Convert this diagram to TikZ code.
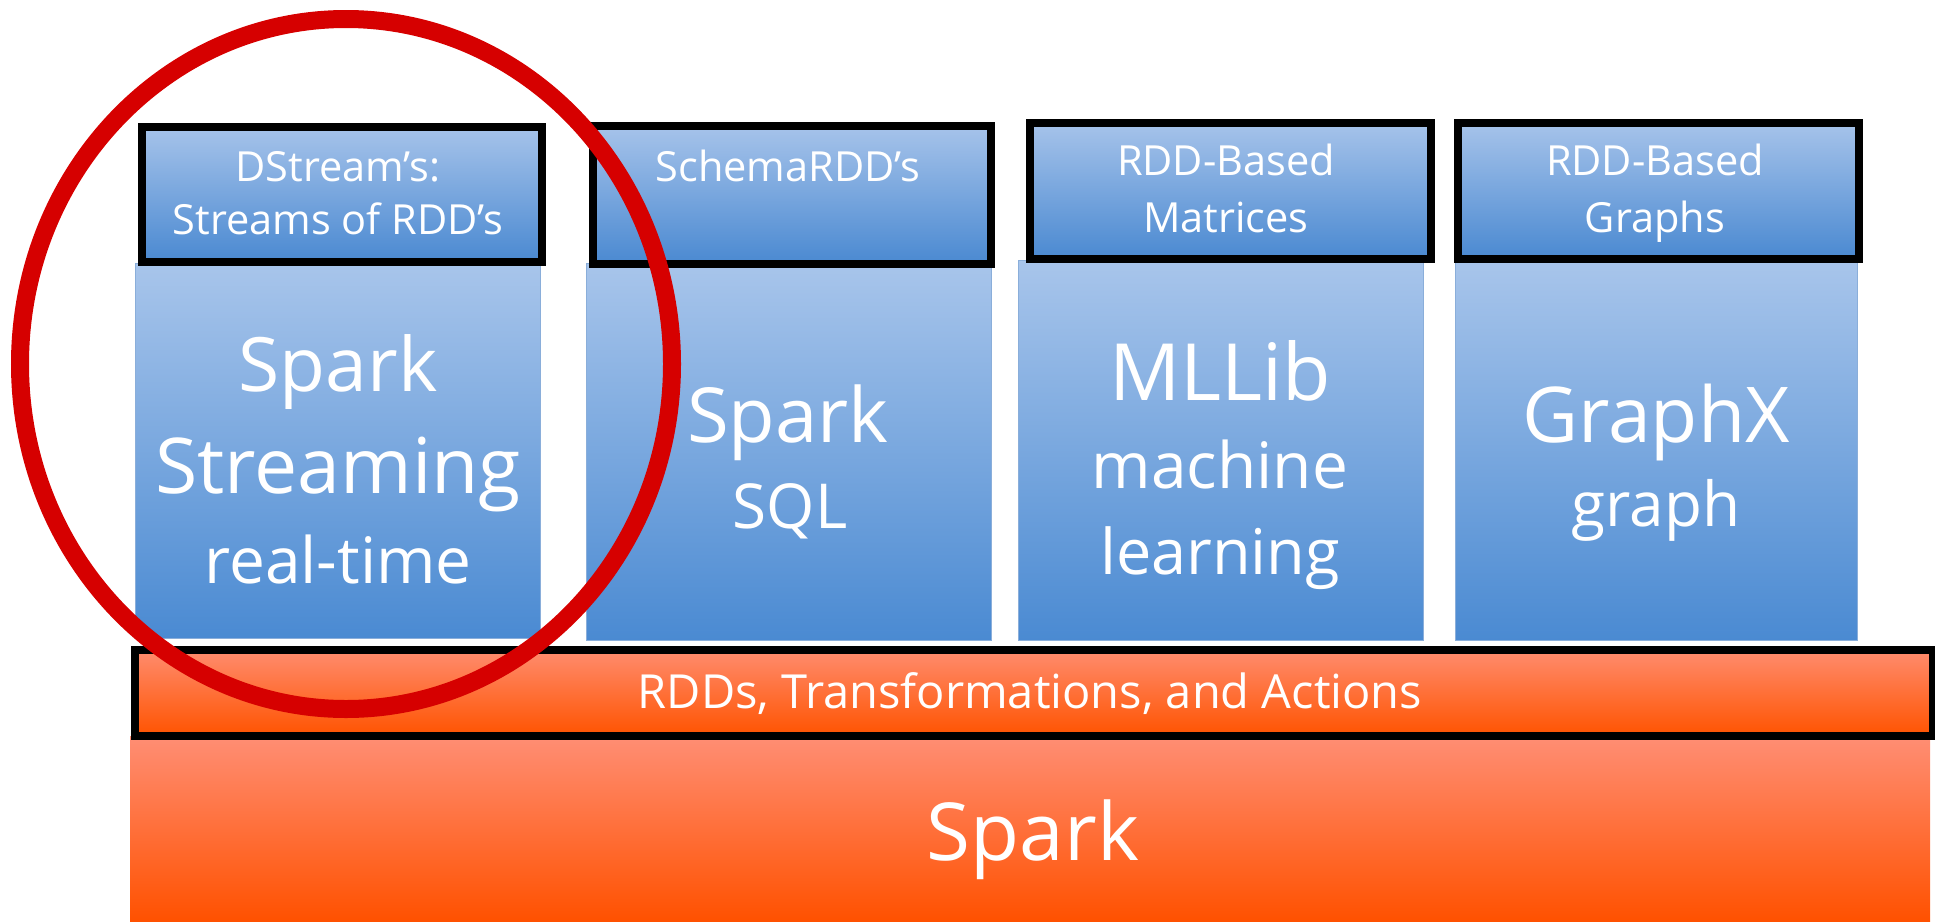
\documentclass[tikz,border=0pt]{standalone}
\usepackage{fontspec}
\setmainfont{Open Sans}
\begin{document}
\begin{tikzpicture}[x=1pt,y=-1pt,
  hdr/.style={draw=black,line width=8pt,top color=hdrtop,bottom color=hdrbot,inner sep=0pt,anchor=north west},
  bodybox/.style={draw=bodyline,line width=1pt,top color=bodytop,bottom color=bodybot,inner sep=0pt,anchor=north west},
  txt/.style={text=white,inner sep=0pt,anchor=base},
  fsz/.style={font=\fontsize{#1}{#1}\selectfont}]
\definecolor{hdrtop}{HTML}{A6C3EA}
\definecolor{hdrbot}{HTML}{4A89D1}
\definecolor{bodytop}{HTML}{A8C5EB}
\definecolor{bodybot}{HTML}{4A8AD2}
\definecolor{bodyline}{HTML}{8AAEDA}
\definecolor{bartop}{HTML}{FF8C6E}
\definecolor{barbot}{HTML}{FF5300}
\definecolor{sparktop}{HTML}{FF8E74}
\definecolor{sparkbot}{HTML}{FF5100}
\definecolor{ringred}{HTML}{D60000}
\useasboundingbox (0,0) rectangle (1935,921);
% bodies
\node[bodybox,minimum width=405pt,minimum height=375pt] (b1) at (135,263) {};
\node[bodybox,minimum width=405pt,minimum height=377pt] (b2) at (586,263) {};
\node[bodybox,minimum width=405pt,minimum height=380pt] (b3) at (1018,260) {};
\node[bodybox,minimum width=402pt,minimum height=380pt] (b4) at (1455,260) {};
% headers
\node[hdr,minimum width=400pt,minimum height=135pt] (h1) at (138,123) {};
\node[hdr,minimum width=398pt,minimum height=138pt] (h2) at (589,122) {};
\node[hdr,minimum width=401pt,minimum height=136pt] (h3) at (1026,119) {};
\node[hdr,minimum width=401pt,minimum height=136pt] (h4) at (1454,119) {};
% spark base
\node[draw=none,top color=sparktop,bottom color=sparkbot,inner sep=0pt,anchor=north west,minimum width=1800pt,minimum height=185pt] (sp) at (130,736) {};
% rdd bar
\node[draw=black,line width=8pt,top color=bartop,bottom color=barbot,inner sep=0pt,anchor=north west,minimum width=1798pt,minimum height=86pt] (rdd) at (131,646) {};
% header texts
\node[txt,fsz=41.5] (t1a) at (338,181) {DStream’s:};
\node[txt,fsz=41.5] (t1b) at (338,234) {Streams of RDD’s};
\node[txt,fsz=41.5] (t2a) at (788,181) {SchemaRDD’s};
\node[txt,fsz=41.5] (t3a) at (1226,175) {RDD-Based};
\node[txt,fsz=41.5] (t3b) at (1226,232) {Matrices};
\node[txt,fsz=41.5] (t4a) at (1655,175) {RDD-Based};
\node[txt,fsz=41.5] (t4b) at (1655,232) {Graphs};
% body texts
\node[txt,fsz=75] (s1a) at (338,391) {Spark};
\node[txt,fsz=77] (s1b) at (338,493) {Streaming};
\node[txt,fsz=64] (s1c) at (338,583) {real-time};
\node[txt,fsz=76] (s2a) at (788,442) {Spark};
\node[txt,fsz=62] (s2b) at (790,528) {SQL};
\node[txt,fsz=79] (s3a) at (1220,400) {MLLib};
\node[txt,fsz=64] (s3b) at (1220,488) {machine};
\node[txt,fsz=63] (s3c) at (1220,574) {learning};
\node[txt,fsz=77] (s4a) at (1656,442) {GraphX};
\node[txt,fsz=62] (s4b) at (1656,526) {graph};
\node[txt,fsz=47] (rt) at (1030,708) {RDDs, Transformations, and Actions};
\node[txt,fsz=80] (spt) at (1033,860) {Spark};
% ring
\draw[ringred,line width=18pt] (346,364) ellipse [x radius=326pt, y radius=345pt];
\end{tikzpicture}
\end{document}
